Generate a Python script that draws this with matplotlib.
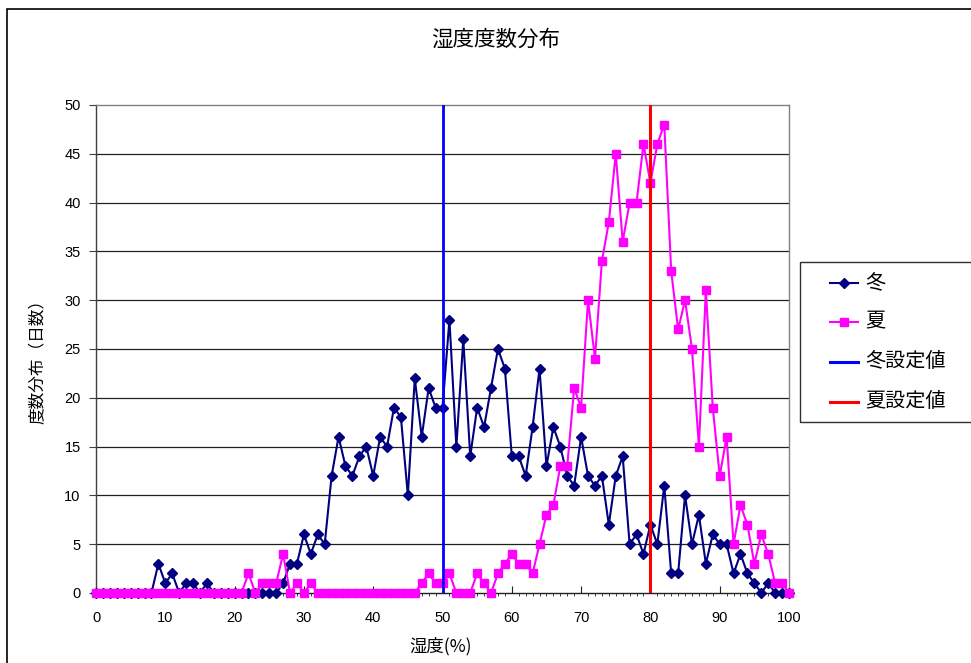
import matplotlib
matplotlib.use("Agg")
import matplotlib.pyplot as plt
from matplotlib.lines import Line2D
from matplotlib.patches import Rectangle
from matplotlib.ticker import MultipleLocator
import numpy as np

humidity = list(range(0, 101))
winter = [0, 0, 0, 0, 0, 0, 0, 0, 0, 3,
          1, 2, 0, 1, 1, 0, 1, 0, 0, 0,
          0, 0, 0, 0, 0, 0, 0, 1, 3, 3,
          6, 4, 6, 5, 12, 16, 13, 12, 14, 15,
          12, 16, 15, 19, 18, 10, 22, 16, 21, 19,
          19, 28, 15, 26, 14, 19, 17, 21, 25, 23,
          14, 14, 12, 17, 23, 13, 17, 15, 12, 11,
          16, 12, 11, 12, 7, 12, 14, 5, 6, 4,
          7, 5, 11, 2, 2, 10, 5, 8, 3, 6,
          5, 5, 2, 4, 2, 1, 0, 1, 0, 0,
          0]
summer = [0, 0, 0, 0, 0, 0, 0, 0, 0, 0,
          0, 0, 0, 0, 0, 0, 0, 0, 0, 0,
          0, 0, 2, 0, 1, 1, 1, 4, 0, 1,
          0, 1, 0, 0, 0, 0, 0, 0, 0, 0,
          0, 0, 0, 0, 0, 0, 0, 1, 2, 1,
          1, 2, 0, 0, 0, 2, 1, 0, 2, 3,
          4, 3, 3, 2, 5, 8, 9, 13, 13, 21,
          19, 30, 24, 34, 38, 45, 36, 40, 40, 46,
          42, 46, 48, 33, 27, 30, 25, 15, 31, 19,
          12, 16, 5, 9, 7, 3, 6, 4, 1, 1,
          0]
winter_setpoint = 50
summer_setpoint = 80
series_labels = ["冬", "夏", "冬設定値", "夏設定値"]
title = "湿度度数分布"
xlabel = "湿度(%)"
ylabel = "度数分布（日数）"

W, H = 971, 663
fig = plt.figure(figsize=(W / 100, H / 100), dpi=100)
cjk = ["Noto Sans CJK JP", "DejaVu Sans"]
num_font = ["Liberation Sans", "DejaVu Sans"]

def fx(px):
    return px / W

def fy(py):
    return 1 - py / H

# outer chart border
fig.add_artist(Rectangle((fx(7), fy(700)), fx(1000), fy(9) - fy(700),
                         transform=fig.transFigure, fill=False,
                         edgecolor="black", linewidth=1.2))

ax = fig.add_axes([fx(96), fy(593), fx(789) - fx(96), fy(105) - fy(593)])
c_winter = "#000080"
c_summer = "#FF00FF"

ax.plot(humidity, winter, color=c_winter, marker="D", markersize=4.8,
        linewidth=1.5, clip_on=False, zorder=3)
ax.plot(humidity, summer, color=c_summer, marker="s", markersize=5.5,
        linewidth=1.5, clip_on=False, zorder=4)
ax.plot([winter_setpoint, winter_setpoint], [0, 50], color="#0000FF",
        linewidth=2, zorder=5)
ax.plot([summer_setpoint, summer_setpoint], [0, 50], color="#FF0000",
        linewidth=2.2, zorder=5)

ax.set_xlim(0, 100)
ax.set_ylim(0, 50)
ax.xaxis.set_major_locator(MultipleLocator(10))
ax.xaxis.set_minor_locator(MultipleLocator(1))
ax.yaxis.set_major_locator(MultipleLocator(5))
for y in range(5, 50, 5):
    ax.axhline(y, color="#202020", linewidth=0.9, zorder=1)

ax.spines["top"].set_color("#808080")
ax.spines["right"].set_color("#808080")
ax.spines["left"].set_color("#404040")
ax.spines["bottom"].set_color("#202020")
for s in ax.spines.values():
    s.set_linewidth(1.0)

ax.tick_params(axis="x", which="major", direction="in", length=5,
               color="#202020", pad=13)
ax.tick_params(axis="x", which="minor", direction="out", length=2.5,
               color="#202020")
ax.tick_params(axis="y", which="major", direction="out", length=5,
               color="#404040", pad=6)
for lab in ax.get_xticklabels() + ax.get_yticklabels():
    lab.set_fontfamily(num_font)
    lab.set_fontsize(10.5)

fig.text(fx(496), fy(40), title, ha="center", va="center",
         family=cjk, fontsize=15.5)
fig.text(fx(441), fy(646), xlabel, ha="center", va="center",
         family=cjk, fontsize=12.5)
fig.text(fx(38), fy(357), ylabel, ha="center", va="center",
         rotation=90, family=cjk, fontsize=12)

# legend
fig.add_artist(Rectangle((fx(800), fy(422)), fx(200), fy(262) - fy(422),
                         transform=fig.transFigure, fill=False,
                         edgecolor="#303030", linewidth=1.0))
leg_y = [283, 322, 362, 402]
styles = [(c_winter, "D", 4.8), (c_summer, "s", 5.5),
          ("#0000FF", None, 0), ("#FF0000", None, 0)]
for yy, lab, (col, mk, ms) in zip(leg_y, series_labels, styles):
    fig.add_artist(Line2D([fx(830), fx(858)], [fy(yy), fy(yy)],
                          transform=fig.transFigure, color=col,
                          linewidth=1.5 if mk else 2.2))
    if mk:
        fig.add_artist(Line2D([fx(844)], [fy(yy)], transform=fig.transFigure,
                              color=col, marker=mk, markersize=ms,
                              linestyle="none"))
    fig.text(fx(865), fy(yy), lab, ha="left", va="center",
             family=cjk, fontsize=14.5)

fig.savefig("out.png", dpi=100)
